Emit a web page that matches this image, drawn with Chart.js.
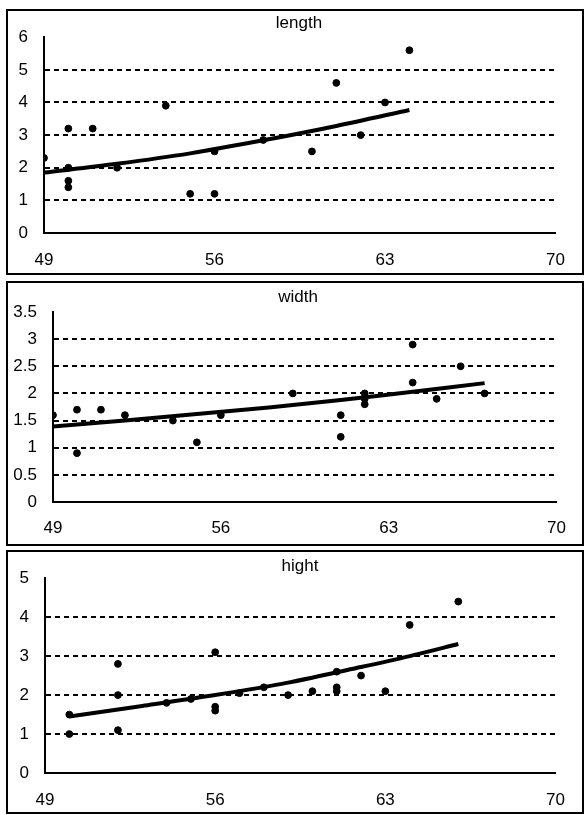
<!DOCTYPE html>
<html>
<head>
<meta charset="utf-8">
<script src="https://cdn.jsdelivr.net/npm/chart.js@4.4.0/dist/chart.umd.min.js"></script>
<style>
  body { margin: 0; background: #fff; width: 585px; height: 815px; position: relative; overflow: hidden; }
  .panel { position: absolute; left: 6px; width: 578px; border: 2px solid #000; box-sizing: border-box; }
  .panel canvas { display: block; }
</style>
</head>
<body>
<div class="panel" style="top:9px;height:266px"><canvas id="lengthChart" width="574" height="262"></canvas></div>
<div class="panel" style="top:281px;height:265px"><canvas id="widthChart" width="574" height="261"></canvas></div>
<div class="panel" style="top:550px;height:264px"><canvas id="hightChart" width="574" height="260"></canvas></div>
<script>
// shared x axis
const xTicks = [49, 56, 63, 70];

// length
const lengthX = [49, 50, 50, 50, 50, 51, 52, 54, 55, 56, 56, 58, 60, 61, 62, 63, 64];
const lengthY = [2.3, 3.2, 2.0, 1.6, 1.4, 3.2, 2.0, 3.9, 1.2, 1.2, 2.5, 2.85, 2.5, 4.6, 3.0, 4.0, 5.6];
const lengthTrendX = [49, 52, 55, 58, 61, 64];
const lengthTrendY = [1.85, 2.12, 2.44, 2.84, 3.28, 3.77];

// width
const widthX = [49, 50, 50, 51, 52, 54, 55, 56, 59, 61, 61, 62, 62, 62, 64, 64, 65, 66, 67];
const widthY = [1.6, 1.7, 0.9, 1.7, 1.6, 1.5, 1.1, 1.6, 2.0, 1.6, 1.2, 2.0, 1.9, 1.8, 2.9, 2.2, 1.9, 2.5, 2.0];
const widthTrendX = [49, 52, 55, 58, 61, 64, 67];
const widthTrendY = [1.39, 1.5, 1.62, 1.74, 1.88, 2.03, 2.19];

// hight
const hightX = [50, 50, 52, 52, 52, 54, 55, 56, 56, 56, 57, 58, 59, 60, 61, 61, 61, 62, 63, 64, 66];
const hightY = [1.5, 1.0, 2.8, 2.0, 1.1, 1.8, 1.9, 3.1, 1.7, 1.6, 2.05, 2.2, 2.0, 2.1, 2.6, 2.2, 2.1, 2.5, 2.1, 3.8, 4.4];
const hightTrendX = [50, 53, 56, 59, 62, 64, 66];
const hightTrendY = [1.45, 1.72, 2.0, 2.32, 2.72, 3.0, 3.31];

const FONT = "'Liberation Sans', Arial, sans-serif";
Chart.defaults.font.family = FONT;
Chart.defaults.font.size = 17;
Chart.defaults.color = "#000";

// title sits a bit left of the plot centre, like the original
const panelTitle = {
    id: "panelTitle",
    afterDraw(chart, args, opts) {
        const ctx = chart.ctx;
        ctx.save();
        ctx.font = "17px " + FONT;
        ctx.fillStyle = "#000";
        ctx.textAlign = "center";
        ctx.textBaseline = "middle";
        ctx.fillText(opts.text, opts.x, opts.y);
        ctx.restore();
    }
};

function renderChart(id, title, xs, ys, trendX, trendY, yMax, yStep, box) {
    const points = xs.map((x, i) => ({ x: x, y: ys[i] }));
    const trend = trendX.map((x, i) => ({ x: x, y: trendY[i] }));

    new Chart(document.getElementById(id), {
        type: "scatter",
        data: {
            datasets: [
                {
                    data: trend,
                    showLine: true,
                    borderColor: "#000",
                    borderWidth: 4,
                    pointRadius: 0,
                    tension: 0.3
                },
                {
                    data: points,
                    backgroundColor: "#000",
                    borderColor: "#000",
                    pointRadius: 3.4
                }
            ]
        },
        plugins: [panelTitle],
        options: {
            responsive: false,
            animation: false,
            layout: { padding: { top: box.top, right: box.right, bottom: 0, left: 0 } },
            plugins: {
                legend: { display: false },
                tooltip: { enabled: false },
                panelTitle: { text: title, x: box.titleX, y: box.titleY }
            },
            scales: {
                x: {
                    type: "linear",
                    min: 49,
                    max: 70,
                    afterBuildTicks: (s) => { s.ticks = xTicks.map(v => ({ value: v })); },
                    ticks: { padding: box.xPad, color: "#000" },
                    grid: { display: false, drawTicks: false },
                    border: { display: true, color: "#000", width: 2 },
                    afterFit: (s) => { s.height = box.xHeight; }
                },
                y: {
                    min: 0,
                    max: yMax,
                    ticks: { stepSize: yStep, padding: 16, color: "#000", callback: (v) => String(v) },
                    grid: {
                        drawTicks: false,
                        lineWidth: 2,
                        color: (ctx) => (ctx.tick && ctx.tick.value > 0 && ctx.tick.value < yMax) ? "#000" : "transparent"
                    },
                    border: { display: true, color: "#000", width: 2, dash: [5, 4] },
                    afterFit: (s) => { s.width = box.yWidth; }
                }
            }
        }
    });
}

renderChart("lengthChart", "length", lengthX, lengthY, lengthTrendX, lengthTrendY, 6, 1,
    { top: 24.7, right: 10, yWidth: 36, xHeight: 40, xPad: 17, titleX: 291, titleY: 12 });
renderChart("widthChart", "width", widthX, widthY, widthTrendX, widthTrendY, 3.5, 0.5,
    { top: 29, right: 9, yWidth: 45, xHeight: 42, xPad: 16, titleX: 290, titleY: 14 });
renderChart("hightChart", "hight", hightX, hightY, hightTrendX, hightTrendY, 5, 1,
    { top: 26, right: 9, yWidth: 37, xHeight: 39, xPad: 17, titleX: 292, titleY: 14 });
</script>
</body>
</html>
